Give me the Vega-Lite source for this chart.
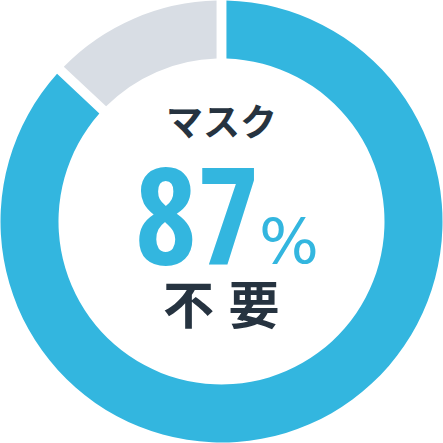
{
  "$schema": "https://vega.github.io/schema/vega-lite/v6.json",
  "autosize": {"type": "fit", "contains": "padding"},
  "width": 443,
  "height": 443,
  "padding": 0,
  "background": "white",
  "config": {"view": {"stroke": null}},
  "data": {
    "values": [
      {"label": "マスク不要", "value": 87, "order": 1},
      {"label": "その他", "value": 13, "order": 2}
    ]
  },
  "layer": [
    {
      "mark": {"type": "arc", "outerRadius": 221, "innerRadius": 163, "padAngle": 0.036},
      "encoding": {
        "theta": {"field": "value", "type": "quantitative", "stack": true},
        "order": {"field": "order", "type": "quantitative"},
        "color": {
          "field": "label",
          "type": "nominal",
          "scale": {"domain": ["マスク不要", "その他"], "range": ["#33B6DF", "#D8DDE4"]},
          "legend": null
        }
      }
    },
    {
      "data": {"values": [{"text": "マスク"}]},
      "mark": {"type": "text", "font": "Noto Sans CJK JP", "fontWeight": "bold", "fontSize": 37, "color": "#263340", "baseline": "middle", "align": "center", "dy": -97},
      "encoding": {"text": {"field": "text"}}
    },
    {
      "transform": [{"filter": "datum.order == 1"}],
      "mark": {"type": "text", "font": "Open Sans Condensed", "fontWeight": "bold", "fontSize": 135, "color": "#33B6DF", "baseline": "alphabetic", "align": "right", "dx": 38, "dy": 43},
      "encoding": {"text": {"field": "value"}}
    },
    {
      "data": {"values": [{"text": "%"}]},
      "mark": {"type": "text", "font": "DejaVu Sans", "fontSize": 63, "color": "#33B6DF", "baseline": "alphabetic", "align": "left", "dx": 37.5, "dy": 41.5},
      "encoding": {"text": {"field": "text"}}
    },
    {
      "data": {"values": [{"text": "不"}]},
      "mark": {"type": "text", "font": "Noto Sans CJK JP", "fontWeight": "bold", "fontSize": 51, "color": "#263340", "baseline": "middle", "align": "center", "dx": -33, "dy": 87},
      "encoding": {"text": {"field": "text"}}
    },
    {
      "data": {"values": [{"text": "要"}]},
      "mark": {"type": "text", "font": "Noto Sans CJK JP", "fontWeight": "bold", "fontSize": 51, "color": "#263340", "baseline": "middle", "align": "center", "dx": 32.5, "dy": 87},
      "encoding": {"text": {"field": "text"}}
    }
  ]
}
